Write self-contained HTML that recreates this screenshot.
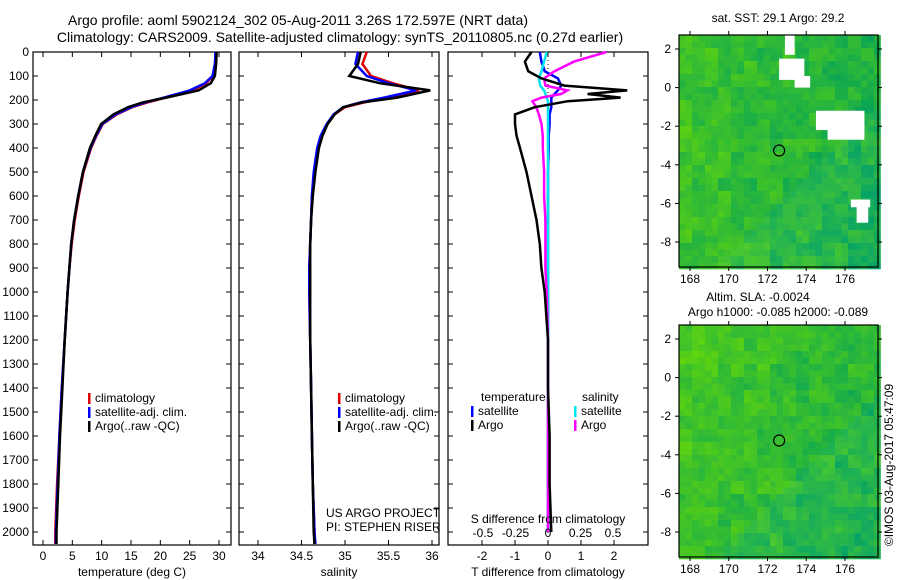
<!DOCTYPE html>
<html><head><meta charset="utf-8"><style>
body{margin:0;background:#fff;}
svg{display:block;font-family:"Liberation Sans",sans-serif;}
text{font-size:12px;fill:#000;}
.ttl{font-size:14px;}
</style></head><body>
<svg id="fig" width="900" height="580" viewBox="0 0 900 580">
<text class="ttl" x="298" y="25" text-anchor="middle">Argo profile: aoml 5902124_302 05-Aug-2011 3.26S 172.597E (NRT data)</text>
<text class="ttl" x="340" y="42" text-anchor="middle">Climatology: CARS2009. Satellite-adjusted climatology: synTS_20110805.nc (0.27d earlier)</text>
<g id="panels"></g>
<text x="778" y="22" text-anchor="middle">sat. SST: 29.1 Argo: 29.2</text>
<text x="758" y="301" text-anchor="middle">Altim. SLA: -0.0024</text>
<text x="778" y="316" text-anchor="middle">Argo h1000: -0.085 h2000: -0.089</text>
<text transform="translate(893,465) rotate(-90)" text-anchor="middle">©IMOS 03-Aug-2017 05:47:09</text>
</svg>
<script>
// ---- data ----
const depthTicks=[0,100,200,300,400,500,600,700,800,900,1000,1100,1200,1300,1400,1500,1600,1700,1800,1900,2000];
const tempTicks=[0,5,10,15,20,25,30];
const salTicks=[34,34.5,35,35.5,36];
const tdTicks=[-2,-1,0,1,2];
const sdTicks=[-0.5,-0.25,0,0.25,0.5];
const sdTickLabels=["-0.5","-0.25","0","0.25","0.5"];
const depths=[0,50,100,130,160,190,210,230,260,300,350,400,500,600,700,800,900,1000,1200,1400,1600,1800,2000,2050];
const tempArgo=[29.6,29.5,29.3,28.6,26.5,21,17.0,14.5,12.0,9.9,8.9,8.0,6.8,6.0,5.3,4.8,4.5,4.2,3.7,3.3,2.9,2.6,2.3,2.3];
const tempClim=[29.5,29.4,29.0,27.8,25.5,21.0,17.8,15.2,12.6,10.2,9.1,8.2,6.9,6.1,5.4,4.9,4.5,4.2,3.7,3.2,2.8,2.4,2.1,2.1];
const tempSat=[29.4,29.3,28.9,27.6,25.0,20.6,17.4,15.0,12.4,10.1,9.0,8.1,6.8,6.0,5.3,4.8,4.5,4.2,3.7,3.2,2.8,2.5,2.2,2.2];
const salArgo=[35.18,35.15,35.05,35.4,35.98,35.6,35.2,34.98,34.88,34.8,34.74,34.7,34.66,34.63,34.61,34.6,34.6,34.6,34.6,34.61,34.62,34.63,34.64,34.65];
const salClim=[35.25,35.2,35.3,35.55,35.85,35.5,35.22,35.0,34.88,34.8,34.73,34.69,34.65,34.62,34.61,34.6,34.59,34.59,34.6,34.61,34.62,34.63,34.65,34.65];
const salSat=[35.15,35.12,35.25,35.5,35.82,35.45,35.18,34.98,34.87,34.79,34.72,34.68,34.64,34.62,34.61,34.6,34.59,34.59,34.6,34.61,34.62,34.63,34.65,34.66];
const tdDepths=[0,40,80,110,140,160,175,190,205,230,260,300,350,400,500,600,700,800,900,1000,1200,1400,1600,1800,2000];
const tdArgo=[-0.5,-0.7,-0.6,-0.2,0.5,2.4,1.2,2.2,0.6,-0.4,-1.0,-1.0,-0.95,-0.85,-0.65,-0.5,-0.35,-0.25,-0.2,-0.1,0,0,0.05,0.05,0.1];
const tdSat=[-0.25,-0.2,-0.1,0.3,0.4,0.3,0.2,0.1,0.1,0.1,0.05,0.05,0.02,0.02,0.0,0.0,0.0,0.0,0,0,0,0,0,0,0];
const sdArgo=[0.45,0.2,0.05,-0.03,-0.02,0.15,0.1,-0.05,-0.12,-0.09,-0.07,-0.05,-0.04,-0.04,-0.03,-0.03,-0.02,-0.02,-0.02,-0.01,0,0,0,0,0];
const sdSat=[-0.01,-0.03,-0.05,-0.07,-0.06,-0.03,-0.02,-0.01,0,0,0,0,0,0,0,0,0,0,0,0,0,0,0,0,0];
const lonTicks=[168,170,172,174,176];
const latTicks=[2,0,-2,-4,-6,-8];
const floatLon=172.6, floatLat=-3.26;

// ---- axes ----
const NS="http://www.w3.org/2000/svg";
const root=document.getElementById('panels');
function el(t,a,p){const e=document.createElementNS(NS,t);for(const k in a)e.setAttribute(k,a[k]);(p||root).appendChild(e);return e;}
const Y0=52,Y1=532,TOP=52,BOT=545;
const yD=d=>Y0+(d/2000)*(Y1-Y0);
function panel(x0,x1,name,xf,ticks,labels,xl){
  const g=el('g',{});
  
  
  el('rect',{x:x0,y:TOP,width:x1-x0,height:BOT-TOP,fill:'none',stroke:'#000','stroke-width':1.2},g);
  depthTicks.forEach(d=>{const y=yD(d);el('line',{x1:x0,x2:x0+5,y1:y,y2:y,stroke:'#000'},g);el('line',{x1:x1,x2:x1-5,y1:y,y2:y,stroke:'#000'},g);
    if(x0<40){const t=el('text',{x:x0-4,y:y+4,'text-anchor':'end'},g);t.textContent=d;}});
  if(ticks){ticks.forEach((v,i)=>{const x=xf(v);el('line',{x1:x,x2:x,y1:BOT,y2:BOT-5,stroke:'#000'},g);el('line',{x1:x,x2:x,y1:TOP,y2:TOP+5,stroke:'#000'},g);
    const t=el('text',{x:x,y:BOT+15,'text-anchor':'middle'},g);t.textContent=labels?labels[i]:v;});}
  if(xl){const t=el('text',{x:(x0+x1)/2,y:BOT+31,'text-anchor':'middle'},g);t.textContent=xl;}
  return g;
}
function line(g,xs,ds,xf,col,name,w){
  const pts=xs.map((v,i)=>xf(v).toFixed(1)+','+yD(ds[i]).toFixed(1)).join(' ');
  const p=el('polyline',{points:pts,fill:'none',stroke:col,'stroke-width':w||2.5},g);
  
  
}
function legend(g,x,y,items){items.forEach((it,i)=>{el('rect',{x:x,y:y+i*14-9,width:2.5,height:11,fill:it[1]},g);const t=el('text',{x:x+7,y:y+i*14},g);t.textContent=it[0];});}

// panel 1
const xT=v=>43+v*(219-43)/30;
const g1=panel(33,231,'temperature-panel',xT,tempTicks,null,'temperature (deg C)');
line(g1,tempClim,depths,xT,'#e00000','temp-climatology');
line(g1,tempSat,depths,xT,'#0000ff','temp-satellite');
line(g1,tempArgo,depths,xT,'#000','temp-argo');
legend(g1,88,402,[['climatology','#e00000'],['satellite-adj. clim.','#0000ff'],['Argo(..raw -QC)','#000']]);
// panel 2
const xS=v=>258+(v-34)*(432-258)/2;
const g2=panel(239,439,'salinity-panel',xS,salTicks,["34","34.5","35","35.5","36"],'salinity');
line(g2,salClim,depths,xS,'#e00000','sal-climatology');
line(g2,salSat,depths,xS,'#0000ff','sal-satellite');
line(g2,salArgo,depths,xS,'#000','sal-argo');
legend(g2,338,402,[['climatology','#e00000'],['satellite-adj. clim.','#0000ff'],['Argo(..raw -QC)','#000']]);
[['US ARGO PROJECT',517],['PI: STEPHEN RISER',531]].forEach(a=>{const t=el('text',{x:326,y:a[1]},g2);t.textContent=a[0];});
// panel 3
const xTD=v=>548+v*33;
const xSD=v=>548+v*130;
const g3=panel(448,648,'difference-panel',xTD,tdTicks,null,'T difference from climatology');
el('line',{x1:548,x2:548,y1:TOP,y2:BOT,stroke:'#000','stroke-dasharray':'1,3'},g3);
line(g3,tdSat,tdDepths,xTD,'#0000ff','tdiff-satellite');
line(g3,sdSat,tdDepths,xSD,'#00e5ee','sdiff-satellite');
line(g3,sdArgo,tdDepths,xSD,'#ff00ff','sdiff-argo');
line(g3,tdArgo,tdDepths,xTD,'#000','tdiff-argo');
sdTicks.forEach((v,i)=>{const t=el('text',{x:xSD(v),y:537,'text-anchor':'middle'},g3);t.textContent=sdTickLabels[i];});
{const t=el('text',{x:548,y:523,'text-anchor':'middle'},g3);t.textContent='S difference from climatology';}
[['temperature',481,401],['salinity',582,401]].forEach(a=>{const t=el('text',{x:a[1],y:a[2]},g3);t.textContent=a[0];});
legend(g3,471,415,[['satellite','#0000ff'],['Argo','#000']]);
legend(g3,574,415,[['satellite','#00e5ee'],['Argo','#ff00ff']]);

// ---- maps ----
function hash(i,j,s){let h=(i*374761393+j*668265263+s*1442695040)|0;h=(h^(h>>>13))*1274126177|0;return ((h^(h>>>16))>>>0)/4294967296;}
function map(yTop,name,seed,white){
  const x0=679,x1=878,y1=yTop+232;
  const lx=v=>690+(v-168)*(845-690)/8;
  const ly=v=>(yTop+14)+(2-v)*(193/10);
  const g=el('g',{});
  
  
  const cs=6.5;
  for(let i=0;i*cs<x1-x0;i++)for(let j=0;j*cs<y1-yTop;j++){
    const n=(hash(i>>1,j>>1,seed)*0.6+hash(i,j,seed+7)*0.4);
    const west=1-i/31, north=1-j/36;
    let t=n*0.55+west*0.3+(seed>1?north*0.1:0)-0.1;
    let r=Math.round(10+t*110),gg=Math.round(165+t*60),b=Math.round(85-t*90);
    if((i+j)>40)b+=15;
    el('rect',{x:x0+i*cs,y:yTop+j*cs,width:cs+0.3,height:cs+0.3,fill:`rgb(${Math.max(0,r)},${gg},${Math.max(0,b)})`},g);
  }
  if(white){[[172.9,2.7,0.5,1.0],[172.6,1.5,1.3,1.1],[173.4,0.6,0.8,0.6],[174.5,-1.2,2.5,1.0],[175.1,-1.9,1.9,0.8],[176.3,-5.8,1.0,0.4],[176.6,-6.1,0.6,0.9]].forEach(w=>el('rect',{x:lx(w[0]),y:ly(w[1]),width:w[2]*19.4,height:w[3]*19.3,fill:'#fff'},g));}
  el('rect',{x:x0,y:yTop,width:x1-x0,height:y1-yTop,fill:'none',stroke:'#000','stroke-width':1.2},g);
  lonTicks.forEach(v=>{const x=lx(v);el('line',{x1:x,x2:x,y1:y1,y2:y1+4,stroke:'#000'},g);el('line',{x1:x,x2:x,y1:yTop,y2:yTop-4,stroke:'#000'},g);const t=el('text',{x:x,y:y1+16,'text-anchor':'middle'},g);t.textContent=v;});
  latTicks.forEach(v=>{const y=ly(v);el('line',{x1:x0,x2:x0-4,y1:y,y2:y,stroke:'#000'},g);el('line',{x1:x1,x2:x1+4,y1:y,y2:y,stroke:'#000'},g);const t=el('text',{x:x0-8,y:y+4,'text-anchor':'end'},g);t.textContent=v;});
  const c=el('circle',{cx:lx(floatLon),cy:ly(floatLat),r:5.5,fill:'none',stroke:'#000','stroke-width':1.2},g);
  
  
}
map(35,'sst-map',1,true);
map(325,'sla-map',3,false);
</script>
</body></html>
